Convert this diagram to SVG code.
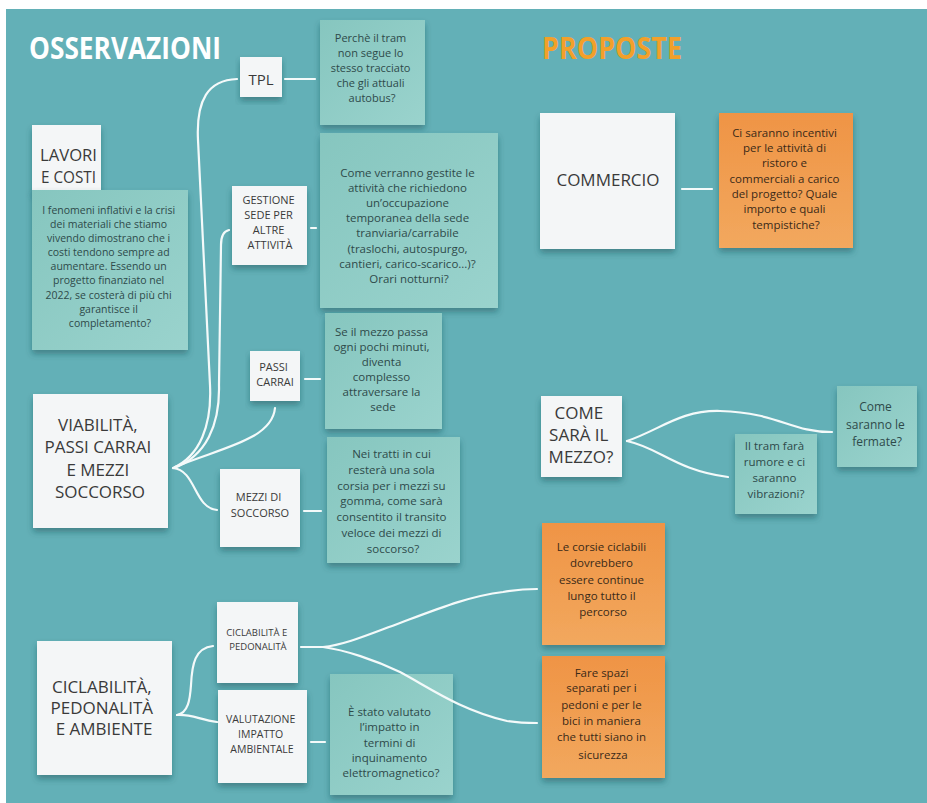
<svg xmlns="http://www.w3.org/2000/svg" width="927" height="803" viewBox="0 0 927 803">
  <defs>
    <linearGradient id="tealNote" x1="0" y1="0" x2="1" y2="1">
      <stop offset="0" stop-color="#86c6bf"/>
      <stop offset="1" stop-color="#9ad3cd"/>
    </linearGradient>
    <linearGradient id="orangeNote" x1="0" y1="0" x2="0" y2="1">
      <stop offset="0" stop-color="#ef9445"/>
      <stop offset="1" stop-color="#f2a85e"/>
    </linearGradient>
    <filter id="shadow" x="-10%" y="-10%" width="120%" height="130%">
      <feDropShadow dx="0" dy="4" stdDeviation="3" flood-color="#1d4a4f" flood-opacity="0.45"/>
    </filter>
  </defs>
  <style>
    .card { fill: #f4f6f7; filter: url(#shadow); }
    .tnote { fill: url(#tealNote); filter: url(#shadow); }
    .onote { fill: url(#orangeNote); filter: url(#shadow); }
    text { font-family: "Open Sans", "DejaVu Sans", sans-serif; }
    .big { font-size: 17px; fill: #3a3a3a; text-anchor: middle; }
    .small { font-size: 11px; fill: #3a3a3a; text-anchor: middle; }
    .tn { font-size: 11px; fill: #2e4a4a; text-anchor: middle; }
    .on { font-size: 11px; fill: #3b2a18; text-anchor: middle; }
    .title { font-size: 31px; font-weight: bold; }
    .link { fill: none; stroke: #f4fafa; stroke-width: 2.2; stroke-linecap: round; }
  </style>

  <!-- board -->
  <rect x="0" y="0" width="927" height="803" fill="#ffffff"/>
  <rect x="6" y="9" width="921" height="794" fill="#63b0b7"/>

  <!-- headings -->
  <text class="title" x="29" y="59" fill="#ffffff" textLength="192" lengthAdjust="spacingAndGlyphs">OSSERVAZIONI</text>
  <text class="title" x="542" y="59" fill="#f2a02a" textLength="140" lengthAdjust="spacingAndGlyphs">PROPOSTE</text>

  <!-- OSSERVAZIONI side -->
  <g id="lavori-costi">
    <rect class="card" x="32" y="125" width="69" height="68"/>
    <text x="40" y="161" font-size="16" fill="#3a3a3a" textLength="57" lengthAdjust="spacingAndGlyphs">LAVORI</text>
    <text x="41" y="183" font-size="16" fill="#3a3a3a" textLength="55" lengthAdjust="spacingAndGlyphs">E COSTI</text>
  </g>
  <g id="lavori-note">
    <rect class="tnote" x="32" y="190" width="156" height="160"/>
    <text class="tn" style="font-size:10.5px">
      <tspan x="110" y="214">I fenomeni inflativi e la crisi</tspan>
      <tspan x="110" y="228">dei materiali che stiamo</tspan>
      <tspan x="110" y="242">vivendo dimostrano che i</tspan>
      <tspan x="110" y="256">costi tendono sempre ad</tspan>
      <tspan x="110" y="270">aumentare. Essendo un</tspan>
      <tspan x="110" y="284">progetto finanziato nel</tspan>
      <tspan x="110" y="299">2022, se costerà di più chi</tspan>
      <tspan x="110" y="313">garantisce il</tspan>
      <tspan x="110" y="327">completamento?</tspan>
    </text>
  </g>

  <g id="tpl">
    <rect class="card" x="240" y="57" width="42" height="40"/>
    <text class="big" x="261" y="85" style="font-size:15px">TPL</text>
  </g>
  <g id="tpl-note">
    <rect class="tnote" x="320" y="20" width="105" height="105"/>
    <text class="tn">
      <tspan x="372" y="42">Perchè il tram</tspan>
      <tspan x="372" y="57">non segue lo</tspan>
      <tspan x="372" y="72">stesso tracciato</tspan>
      <tspan x="372" y="87">che gli attuali</tspan>
      <tspan x="372" y="102">autobus?</tspan>
    </text>
  </g>

  <g id="gestione">
    <rect class="card" x="232" y="186" width="75" height="79"/>
    <text class="small">
      <tspan x="270" y="204">GESTIONE</tspan>
      <tspan x="270" y="219">SEDE PER</tspan>
      <tspan x="270" y="234">ALTRE</tspan>
      <tspan x="270" y="249">ATTIVITÀ</tspan>
    </text>
  </g>
  <g id="gestione-note">
    <rect class="tnote" x="320" y="133" width="178" height="175"/>
    <text class="tn" style="font-size:11.5px">
      <tspan x="409" y="177">Come verranno gestite le</tspan>
      <tspan x="409" y="192">attività che richiedono</tspan>
      <tspan x="409" y="207">un’occupazione</tspan>
      <tspan x="409" y="222">temporanea della sede</tspan>
      <tspan x="409" y="237">tranviaria/carrabile</tspan>
      <tspan x="409" y="253">(traslochi, autospurgo,</tspan>
      <tspan x="409" y="268">cantieri, carico-scarico...)?</tspan>
      <tspan x="409" y="283">Orari notturni?</tspan>
    </text>
  </g>

  <g id="passi-carrai">
    <rect class="card" x="250" y="351" width="50" height="50"/>
    <text class="small">
      <tspan x="275" y="371">PASSI</tspan>
      <tspan x="275" y="386">CARRAI</tspan>
    </text>
  </g>
  <g id="passi-note">
    <rect class="tnote" x="325" y="313" width="117" height="116"/>
    <text class="tn" style="font-size:11.5px">
      <tspan x="383" y="336">Se il mezzo passa</tspan>
      <tspan x="383" y="351">ogni pochi minuti,</tspan>
      <tspan x="383" y="366">diventa</tspan>
      <tspan x="383" y="381">complesso</tspan>
      <tspan x="383" y="396">attraversare la</tspan>
      <tspan x="383" y="411">sede</tspan>
    </text>
  </g>

  <g id="viabilita">
    <rect class="card" x="33" y="394" width="135" height="134"/>
    <text class="big">
      <tspan x="100" y="431">VIABILITÀ,</tspan>
      <tspan x="100" y="453">PASSI CARRAI</tspan>
      <tspan x="100" y="476">E MEZZI</tspan>
      <tspan x="100" y="498">SOCCORSO</tspan>
    </text>
  </g>

  <g id="mezzi-soccorso">
    <rect class="card" x="220" y="469" width="80" height="78"/>
    <text class="small">
      <tspan x="260" y="501">MEZZI DI</tspan>
      <tspan x="260" y="517">SOCCORSO</tspan>
    </text>
  </g>
  <g id="mezzi-note">
    <rect class="tnote" x="327" y="437" width="133" height="126"/>
    <text class="tn" style="font-size:11.5px">
      <tspan x="393" y="458">Nei tratti in cui</tspan>
      <tspan x="393" y="474">resterà una sola</tspan>
      <tspan x="393" y="490">corsia  per i mezzi su</tspan>
      <tspan x="393" y="505">gomma, come  sarà</tspan>
      <tspan x="393" y="521">consentito il transito</tspan>
      <tspan x="393" y="537">veloce dei mezzi di</tspan>
      <tspan x="393" y="553">soccorso?</tspan>
    </text>
  </g>

  <g id="ciclabilita-ambiente">
    <rect class="card" x="37" y="641" width="135" height="134"/>
    <text class="big">
      <tspan x="104" y="693">CICLABILITÀ,</tspan>
      <tspan x="104" y="714">PEDONALITÀ</tspan>
      <tspan x="104" y="735">E AMBIENTE</tspan>
    </text>
  </g>

  <g id="ciclabilita-pedonalita">
    <rect class="card" x="217" y="602" width="81" height="81"/>
    <text class="small" style="font-size:9.5px">
      <tspan x="258" y="636">CICLABILITÀ E</tspan>
      <tspan x="258" y="650">PEDONALITÀ</tspan>
    </text>
  </g>

  <g id="valutazione">
    <rect class="card" x="218" y="690" width="89" height="93"/>
    <text class="small" style="font-size:10.5px">
      <tspan x="262" y="723">VALUTAZIONE</tspan>
      <tspan x="262" y="738">IMPATTO</tspan>
      <tspan x="262" y="753">AMBIENTALE</tspan>
    </text>
  </g>
  <g id="valutazione-note">
    <rect class="tnote" x="330" y="674" width="123" height="121"/>
    <text class="tn" style="font-size:11.5px">
      <tspan x="391" y="716">È stato valutato</tspan>
      <tspan x="391" y="731">l’impatto in</tspan>
      <tspan x="391" y="747">termini di</tspan>
      <tspan x="391" y="762">inquinamento</tspan>
      <tspan x="391" y="777">elettromagnetico?</tspan>
    </text>
  </g>

  <!-- PROPOSTE side -->
  <g id="commercio">
    <rect class="card" x="540" y="113" width="135" height="136"/>
    <text class="big" x="608" y="186">COMMERCIO</text>
  </g>
  <g id="commercio-note">
    <rect class="onote" x="719" y="113" width="134" height="135"/>
    <text class="on" style="font-size:11.5px">
      <tspan x="786" y="137">Ci saranno incentivi</tspan>
      <tspan x="786" y="152">per le attività di</tspan>
      <tspan x="786" y="167">ristoro e</tspan>
      <tspan x="786" y="183">commerciali a carico</tspan>
      <tspan x="786" y="198">del progetto? Quale</tspan>
      <tspan x="786" y="213">importo e quali</tspan>
      <tspan x="786" y="229">tempistiche?</tspan>
    </text>
  </g>

  <g id="come-sara">
    <rect class="card" x="541" y="396" width="81" height="81"/>
    <text class="big">
      <tspan x="581" y="419">COME</tspan>
      <tspan x="581" y="441">SARÀ IL</tspan>
      <tspan x="581" y="463">MEZZO?</tspan>
    </text>
  </g>
  <g id="rumore-note">
    <rect class="tnote" x="735" y="434" width="82" height="80"/>
    <text class="tn" style="font-size:11.5px">
      <tspan x="776" y="450">Il tram farà</tspan>
      <tspan x="776" y="466">rumore e ci</tspan>
      <tspan x="776" y="482">saranno</tspan>
      <tspan x="776" y="498">vibrazioni?</tspan>
    </text>
  </g>
  <g id="fermate-note">
    <rect class="tnote" x="837" y="386" width="80" height="81"/>
    <text class="tn" style="font-size:12px">
      <tspan x="877" y="411">Come</tspan>
      <tspan x="877" y="429">saranno le</tspan>
      <tspan x="877" y="446">fermate?</tspan>
    </text>
  </g>

  <g id="corsie-note">
    <rect class="onote" x="542" y="523" width="123" height="122"/>
    <text class="on" style="font-size:11.5px">
      <tspan x="603" y="551">Le corsie ciclabili</tspan>
      <tspan x="603" y="567">dovrebbero</tspan>
      <tspan x="603" y="584">essere continue</tspan>
      <tspan x="603" y="600">lungo tutto il</tspan>
      <tspan x="603" y="616">percorso</tspan>
    </text>
  </g>
  <g id="spazi-note">
    <rect class="onote" x="542" y="656" width="123" height="122"/>
    <text class="on" style="font-size:11.5px">
      <tspan x="603" y="677">Fare spazi</tspan>
      <tspan x="603" y="692">separati per i</tspan>
      <tspan x="603" y="709">pedoni e per le</tspan>
      <tspan x="603" y="725">bici in maniera</tspan>
      <tspan x="603" y="741">che tutti siano in</tspan>
      <tspan x="603" y="759">sicurezza</tspan>
    </text>
  </g>

  <!-- connectors, drawn over the cards -->
  <g id="connectors">
    <path class="link" d="M285,79 L315,79"/>
    <path class="link" d="M311,228 L316,228"/>
    <path class="link" d="M305,379 L320,379"/>
    <path class="link" d="M304,511 L321,511"/>
    <path class="link" d="M311,742 L325,742"/>
    <path class="link" d="M682,189 L712,189"/>
    <path class="link" d="M173,468 C200,456 212,425 210,385 L198,140 C196,100 208,80 237,79"/>
    <path class="link" d="M174,468 C206,456 220,425 219,385 L221,245 C221,236 224,231 229,230"/>
    <path class="link" d="M275,408 C272,440 220,448 175,467"/>
    <path class="link" d="M173,468 C196,470 194,508 217,510"/>
    <path class="link" d="M177,715 C188,713 190,700 191,685 C192,664 195,648 213,646"/>
    <path class="link" d="M177,715 C192,714 200,720 217,722"/>
    <path class="link" d="M301,647 L323,647 C345,645 370,634 400,623 C440,608 470,596 503,592 C515,590 525,589 537,589"/>
    <path class="link" d="M323,647 C345,650 375,660 400,672 C430,688 460,710 507,721 C520,723 530,723 537,723"/>
    <path class="link" d="M627,441 C660,430 680,410 720,411 C780,413 790,432 832,432"/>
    <path class="link" d="M627,441 C660,448 675,470 728,477"/>
  </g>
</svg>
